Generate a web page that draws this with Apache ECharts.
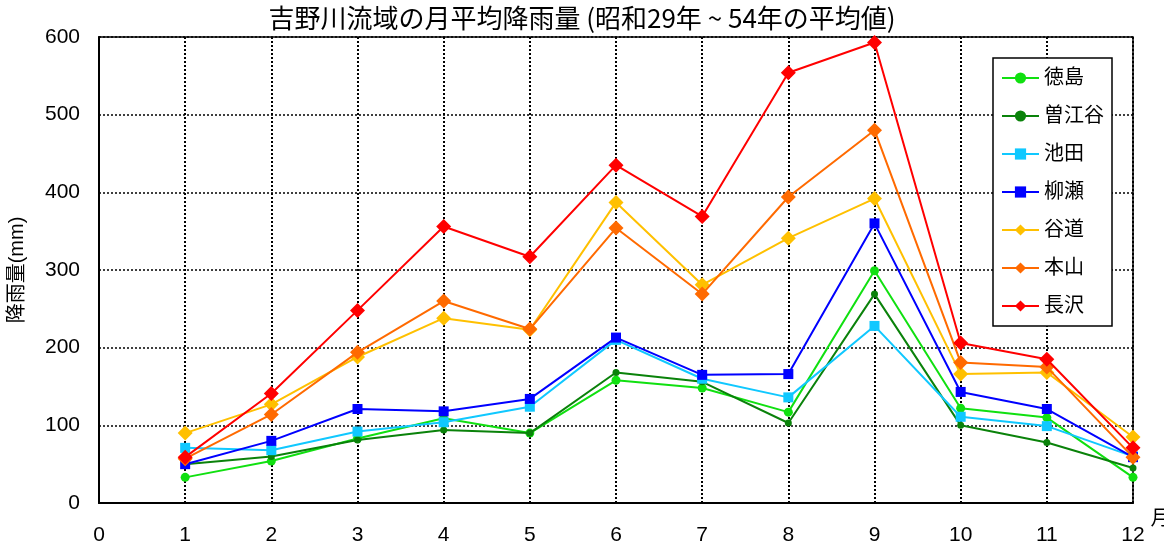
<!DOCTYPE html>
<html><head><meta charset="utf-8">
<script src="https://cdn.jsdelivr.net/npm/echarts@6/dist/echarts.min.js"></script>
<style>html,body{margin:0;padding:0;background:#fff}#c{width:1164px;height:556px}</style>
</head><body><div id="c"></div>
<script>
const months = [1,2,3,4,5,6,7,8,9,10,11,12];
const xTicks = [0,1,2,3,4,5,6,7,8,9,10,11,12];
const yTicks = [0,100,200,300,400,500,600];
const names = ['徳島','曽江谷','池田','柳瀬','谷道','本山','長沢'];
const tokushima = [33,54,83,109,90,158,148,117,299,122,110,33];
const sokodani  = [50,60,81,94,90,168,156,103,269,100,78,45];
const ikeda     = [71,68,92,104,124,210,160,136,228,111,99,60];
const yanase    = [50,80,121,118,134,213,165,166,360,143,121,59];
const tanimichi = [90,127,188,238,223,387,281,341,392,166,168,85];
const motoyama  = [57,114,194,260,224,354,269,394,480,181,175,59];
const nagasawa  = [59,141,248,356,317,435,369,554,593,206,185,71];

const seriesData = [tokushima,sokodani,ikeda,yanase,tanimichi,motoyama,nagasawa];
const colors = ['#10e010','#0a820a','#10c8ff','#0000ff','#ffc000','#ff6a00','#ff0000'];
const symbols = ['circle','circle','rect','rect','diamond','diamond','diamond'];
const sizes = [9,7,10,10,15,15,15];

const FONT = "'Liberation Sans', 'Noto Sans CJK JP', sans-serif";
const chart = echarts.init(document.getElementById('c'));
chart.setOption({
  animation:false,
  backgroundColor:'#fff',
  title:{text:'吉野川流域の月平均降雨量 (昭和29年 ~ 54年の平均値)', left:'center', top:0,
    textStyle:{fontFamily:"'Liberation Sans Narrow', 'Noto Sans CJK JP', sans-serif", fontSize:26, fontWeight:'normal', color:'#000'}},
  grid:{left:99, right:31, top:37, bottom:53, show:true, borderColor:'#000', borderWidth:1.5, backgroundColor:'transparent', outerBoundsMode:'none', containLabel:false},
  legend:{orient:'vertical', left:993, top:58, width:117, padding:[10,8,10,8], itemGap:18, itemWidth:37, itemHeight:14,
    backgroundColor:'#fff', borderColor:'#000', borderWidth:1.5,
    textStyle:{fontFamily:FONT, fontSize:20, color:'#000', lineHeight:20}, data:names},
  xAxis:{type:'value', min:0, max:12, interval:1,
    axisLine:{lineStyle:{color:'#000', width:2}}, axisTick:{show:false},
    axisLabel:{fontFamily:FONT, fontSize:21, color:'#000', margin:22, formatter:v=>xTicks.includes(v)?String(v):''},
    splitLine:{show:true, lineStyle:{color:'#000', type:[2,2], width:2}},
    name:'月', nameLocation:'end', nameGap:14,
    nameTextStyle:{fontFamily:FONT, fontSize:20, color:'#000', verticalAlign:'top', align:'left', padding:[6,0,0,0]}},
  yAxis:{type:'value', min:0, max:600, interval:100,
    axisLine:{show:true, lineStyle:{color:'#000', width:2}}, axisTick:{show:false},
    axisLabel:{fontFamily:FONT, fontSize:21, color:'#000', margin:19, formatter:v=>yTicks.includes(v)?String(v):''},
    splitLine:{show:true, lineStyle:{color:'#000', type:[2,2], width:1.5}},
    name:'降雨量(mm)', nameLocation:'middle', nameGap:72, nameRotate:90,
    nameTextStyle:{fontFamily:FONT, fontSize:20, color:'#000'}},
  series: names.map((n,i)=>({
    name:n, type:'line', data: months.map((m,j)=>[m, seriesData[i][j]]),
    symbol:symbols[i], symbolSize:sizes[i], showSymbol:true,
    lineStyle:{color:colors[i], width:2}, itemStyle:{color:colors[i]},
    z: 2+i
  }))
});
</script></body></html>
